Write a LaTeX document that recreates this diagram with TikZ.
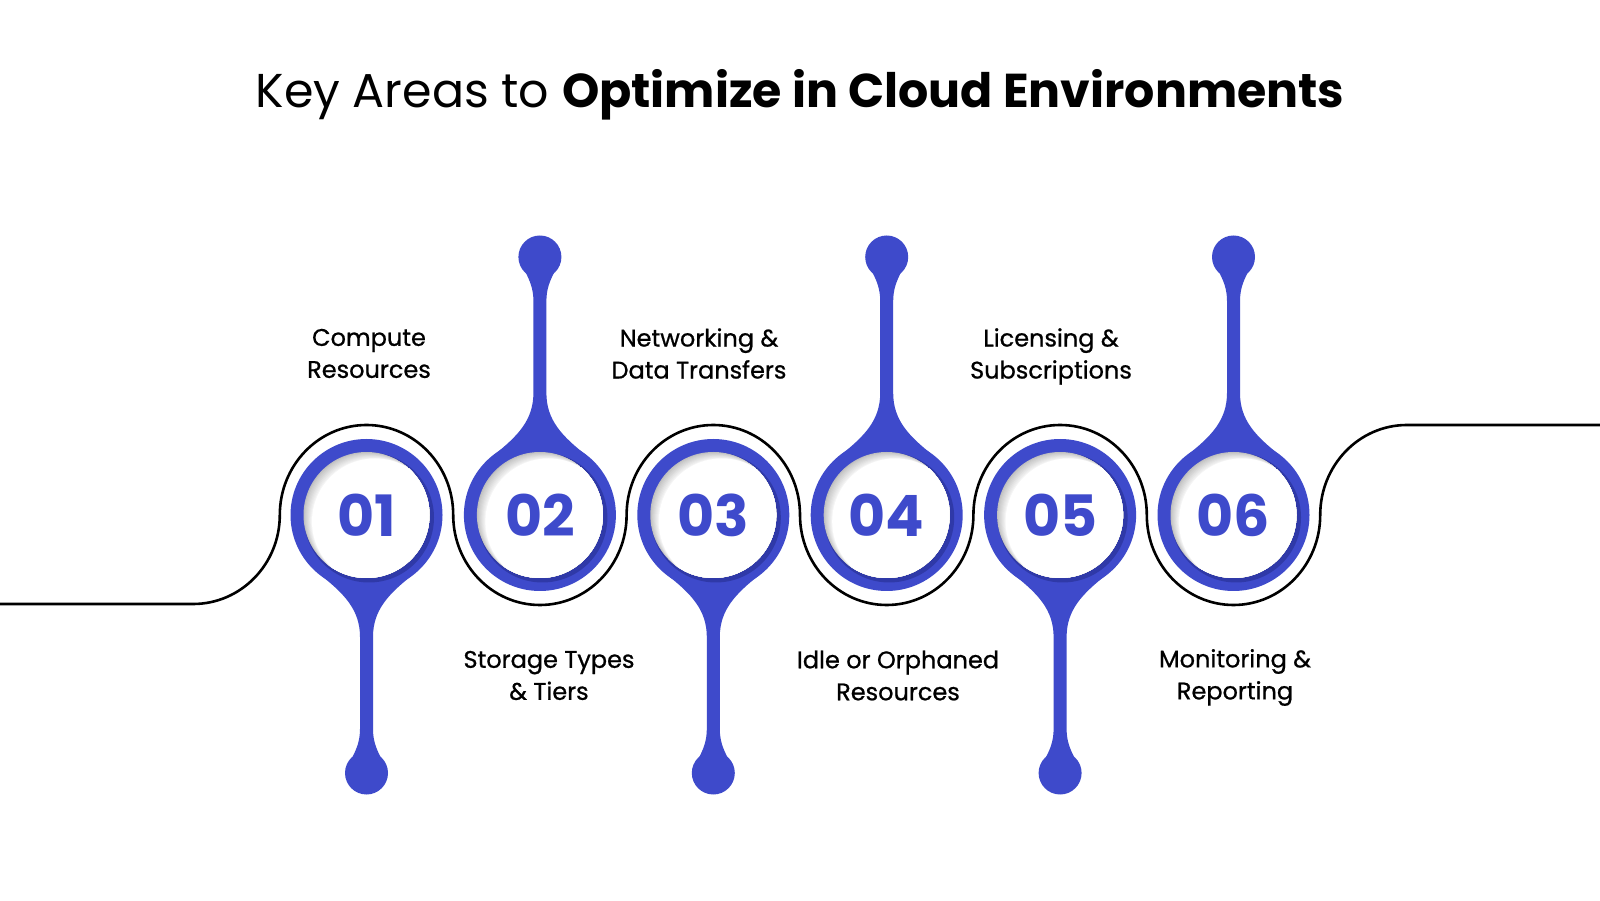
\documentclass[tikz,border=0pt]{standalone}
\usepackage{fontspec}
\setmainfont{Poppins}
\newfontfamily\lblfont[FakeBold=0.8]{Poppins}
\usetikzlibrary{calc}
\definecolor{cblue}{RGB}{62,74,203}
\definecolor{cdark}{RGB}{36,44,140}
\begin{document}
\begin{tikzpicture}[x=1pt,y=1pt,
  ring/.style={circle,fill=cblue,minimum size=152pt,inner sep=0pt},
  num/.style={font=\fontsize{57}{62}\selectfont\bfseries,text=cblue},
  lbl/.style={align=center,font=\lblfont\fontsize{24}{32}\selectfont,text=black},
  outline/.style={line width=2.6pt,black},
  titlestyle/.style={font=\fontsize{47.5}{54}\selectfont,text=black}
]
\useasboundingbox (0,0) rectangle (1600,900);
\fill[white] (0,0) rectangle (1600,900);

\node[titlestyle] (title) at (800,805) {Key Areas to \textbf{Optimize in Cloud Environments}};

% wavy outline
\coordinate (ostart) at (0,296);
\coordinate (oend) at (1600,475);
\draw[outline] (ostart) -- (193.1,296) arc[start angle=-90,end angle=0,x radius=86.7,y radius=89]
  arc[start angle=180,end angle=0,x radius=86.7,y radius=90]
  arc[start angle=180,end angle=360,x radius=86.7,y radius=90]
  arc[start angle=180,end angle=0,x radius=86.7,y radius=90]
  arc[start angle=180,end angle=360,x radius=86.7,y radius=90]
  arc[start angle=180,end angle=0,x radius=86.7,y radius=90]
  arc[start angle=180,end angle=360,x radius=86.7,y radius=90]
  arc[start angle=180,end angle=90,x radius=86.7,y radius=90] -- (oend);

\foreach \i/\x/\d in {1/366.5/-1,2/539.9/1,3/713.3/-1,4/886.7/1,5/1060.1/-1,6/1233.5/1}{
  \begin{scope}[shift={(\x,385)},yscale=\d]
    \fill[cblue] (-46,60) .. controls (-22,79) and (-6.5,95) .. (-6.5,122) -- (-6.5,214)
      .. controls (-6.5,226) and (-10,234) .. (-14,242) -- (14,242)
      .. controls (10,234) and (6.5,226) .. (6.5,214) -- (6.5,122)
      .. controls (6.5,95) and (22,79) .. (46,60) -- cycle;
    \fill[cblue] (0,258) circle (21.5);
  \end{scope}
  \node[ring] (c\i) at (\x,385) {};
  \fill[cdark,opacity=0.55] ($(c\i)+(2.5,-2.5)$) circle (65);
  \begin{scope}
    \clip (c\i) circle (63);
    \fill[gray!50] (c\i) circle (63);
    \foreach \k in {1,...,8}{
      \pgfmathtruncatemacro\g{48-5*\k}
      \fill[gray!\g] ($(c\i)+(\k*0.95,-\k*0.75)$) circle (63);
    }
    \fill[white] ($(c\i)+(8.5,-6.5)$) circle (63);
  \end{scope}
  \node[num] (n\i) at (c\i) {0\i};
}

\node[lbl] (l1) at (369,546.5) {Compute\\Resources};
\node[lbl] (l2) at (549,224.5) {Storage Types\\\& Tiers};
\node[lbl] (l3) at (699,546.5) {Networking \&\\Data Transfers};
\node[lbl] (l4) at (898,224.5) {Idle or Orphaned\\Resources};
\node[lbl] (l5) at (1051,543.5) {Licensing \&\\Subscriptions};
\node[lbl] (l6) at (1235,222.5) {Monitoring \&\\Reporting};
\end{tikzpicture}
\end{document}
